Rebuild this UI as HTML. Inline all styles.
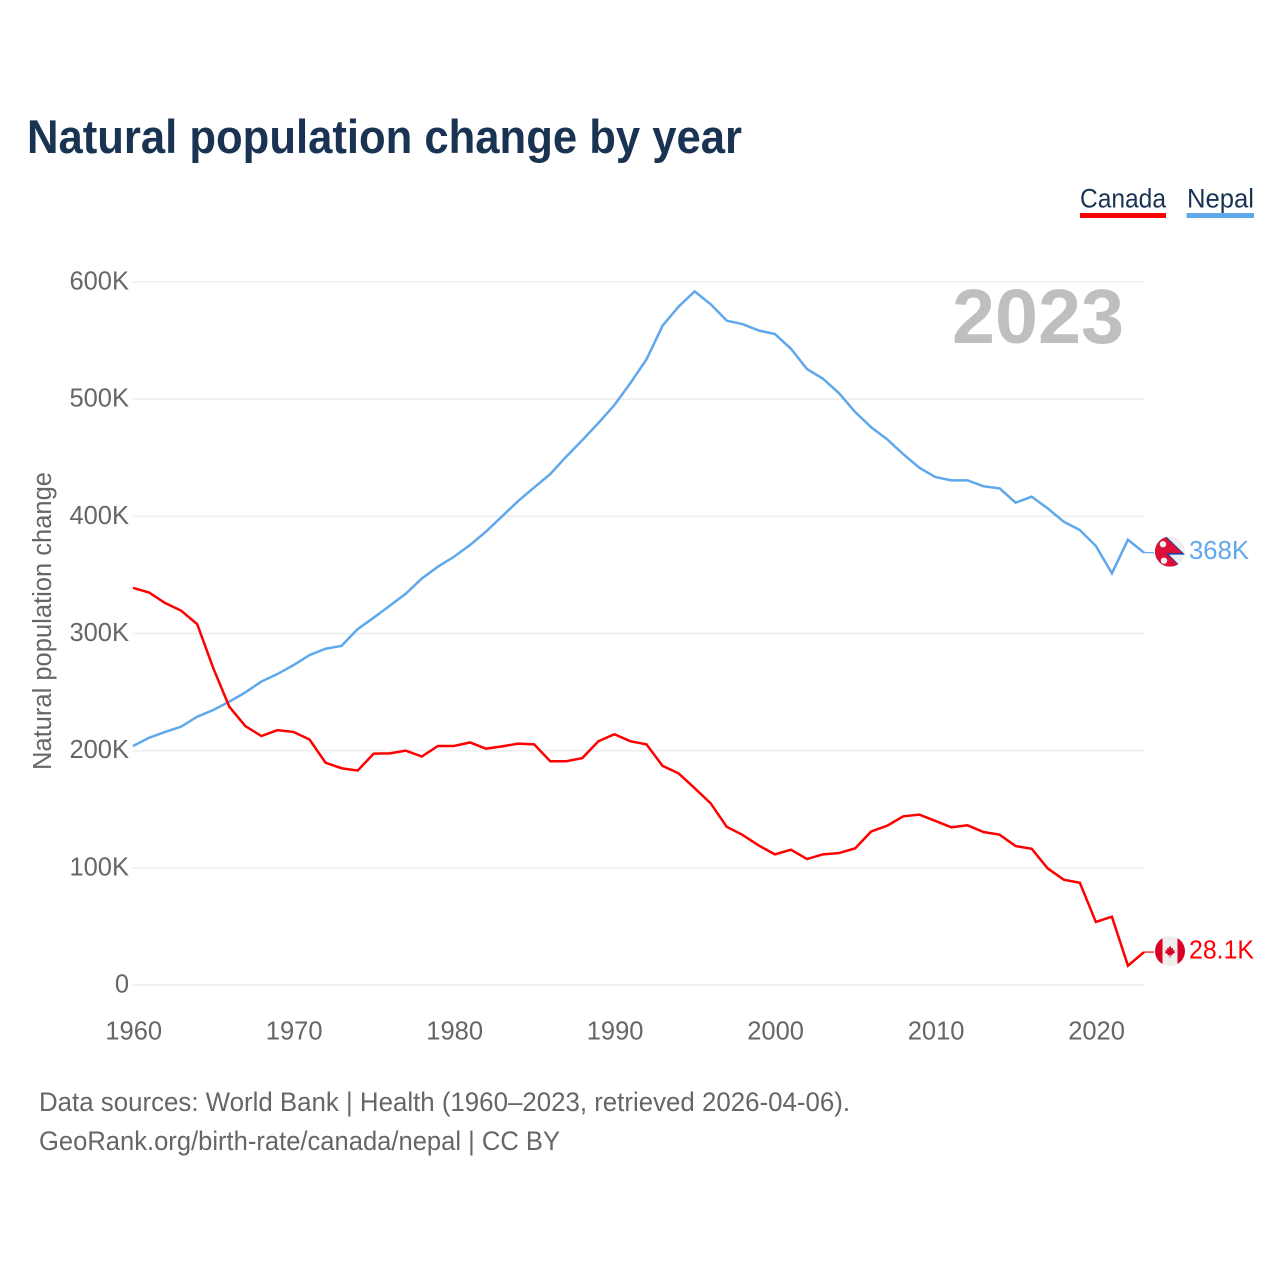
<!DOCTYPE html>
<html lang="en">
<head>
<meta charset="utf-8">
<title>Natural population change by year</title>
<style>
html,body{margin:0;padding:0;background:#fff;width:1280px;height:1280px;overflow:hidden}
svg{display:block}
text{font-family:"Liberation Sans",sans-serif}
.tick{font-size:25.5px;fill:#666}
.src{font-size:26.5px;fill:#666}
.leg{font-size:27px;fill:#1a3353}
</style>
</head>
<body>
<svg id="chart" xmlns="http://www.w3.org/2000/svg" width="1280" height="1280" viewBox="0 0 1280 1280">
  <rect x="0" y="0" width="1280" height="1280" fill="#ffffff"/>
  <text x="27" y="153" font-size="47" font-weight="700" fill="#1a3353" textLength="715" lengthAdjust="spacingAndGlyphs">Natural population change by year</text>

  <g id="gridLayer"></g>
  <g id="yTickLayer"></g>
  <g id="xTickLayer"></g>

  <text x="952" y="343" font-size="77" font-weight="700" fill="#bfbfbf" textLength="172" lengthAdjust="spacingAndGlyphs">2023</text>

  <text transform="translate(51,770) rotate(-90)" class="tick" textLength="298" lengthAdjust="spacingAndGlyphs">Natural population change</text>

  <g>
    <text class="leg" x="1080" y="207.5" textLength="86" lengthAdjust="spacingAndGlyphs">Canada</text>
    <rect x="1080" y="213" width="86" height="5" fill="#ff0000"/>
  </g>
  <g>
    <text class="leg" x="1187" y="207.5" textLength="67" lengthAdjust="spacingAndGlyphs">Nepal</text>
    <rect x="1186.5" y="213" width="67.5" height="5" fill="#5fa8ec"/>
  </g>

  <path id="lineNepal" fill="none" stroke="#5fa8ec" stroke-width="2.5" stroke-linejoin="miter"/>
  <path id="lineCanada" fill="none" stroke="#ff0000" stroke-width="2.5" stroke-linejoin="miter"/>
  <line id="connNepal" stroke="#5fa8ec" stroke-width="1.2"/>
  <line id="connCanada" stroke="#ff0000" stroke-width="1.2"/>

  <defs>
    <clipPath id="flagClip"><circle cx="0" cy="0" r="15"/></clipPath>
  </defs>

  <g id="flagNepal">
    <g clip-path="url(#flagClip)">
      <rect x="-15" y="-15" width="30" height="30" fill="#eeeeee"/>
      <polygon points="-15,-17 -4,-15.5 15,3 -1,3 13,17 -15,17" fill="#0f47a8"/>
      <polygon points="-15,-15 -4,-14 12.5,1.5 -4,1.5 11,16 -15,16" fill="#dc0f37"/>
      <circle cx="-7" cy="-7.5" r="3.2" fill="#f2f2f2"/>
      <circle cx="-6" cy="9" r="3.2" fill="#f2f2f2"/>
    </g>
  </g>
  <g id="flagCanada">
    <g clip-path="url(#flagClip)">
      <rect x="-15" y="-15" width="30" height="30" fill="#eeeeee"/>
      <rect x="-15" y="-15" width="7.5" height="30" fill="#d80027"/>
      <rect x="7.5" y="-15" width="7.5" height="30" fill="#d80027"/>
      <polygon points="0,-5.5 1.6,-2.6 3.2,-3.4 2.6,-0.4 5,-1.4 4.2,0.8 5.2,1.4 2,3.4 2.4,4.4 0.4,4 0.4,6.5 -0.4,6.5 -0.4,4 -2.4,4.4 -2,3.4 -5.2,1.4 -4.2,0.8 -5,-1.4 -2.6,-0.4 -3.2,-3.4 -1.6,-2.6" fill="#d80027"/>
    </g>
  </g>

  <text id="valueNepal" font-size="25.5" fill="#5fa8ec" textLength="60" lengthAdjust="spacingAndGlyphs"></text>
  <text id="valueCanada" font-size="25.5" fill="#ff0000" textLength="65" lengthAdjust="spacingAndGlyphs"></text>

  <text class="src" x="39" y="1111" textLength="811" lengthAdjust="spacingAndGlyphs">Data sources: World Bank | Health (1960–2023, retrieved 2026-04-06).</text>
  <text class="src" x="39" y="1150" textLength="521" lengthAdjust="spacingAndGlyphs">GeoRank.org/birth-rate/canada/nepal | CC BY</text>
</svg>

<script>
const firstYear = 1960;
const yTickValues = [0, 100, 200, 300, 400, 500, 600];
const yTickLabels = ["0", "100K", "200K", "300K", "400K", "500K", "600K"];
const xTickYears = [1960, 1970, 1980, 1990, 2000, 2010, 2020];
const xTickLabels = ["1960", "1970", "1980", "1990", "2000", "2010", "2020"];
const canadaLabel = ["28.1K"];
const nepalLabel = ["368K"];

// Natural population change, thousands, one value per year from 1960 to 2023
const canadaValues = [
  339, 335, 326, 319.5, 308, 270.5, 237.5, 221, 212.5, 217.5,
  216, 209.5, 189.7, 185, 183, 197.5, 197.7, 200, 195, 204,
  204, 207, 201.7, 203.7, 206, 205.4, 191, 191, 193.7, 208,
  214, 208, 205.4, 187, 180.6, 168, 155, 135, 128, 119,
  111.5, 115.5, 107.5, 111.5, 112.6, 116.6, 131, 136, 144, 145.4,
  140, 134.6, 136.3, 130.6, 128.3, 118.6, 116.3, 99.5, 89.9, 87.3,
  53.8, 58.3, 16.5, 28.1
];
const nepalValues = [
  204, 211, 216, 220.5, 229, 234.7, 241.8, 249.7, 259, 265.4,
  273, 281.6, 287, 289.5, 303.8, 313.5, 323.7, 334, 347, 357,
  365.5, 375.5, 387, 400, 413, 424.7, 436, 451, 465, 479.6,
  495, 513.8, 534, 562.7, 579, 592, 581, 567, 564, 558.6,
  555.6, 543, 525.7, 517.4, 505, 489, 476, 465.7, 453, 441.5,
  433.5, 430.7, 430.7, 425.6, 423.9, 411.6, 416.8, 406.8, 395.4, 388.3,
  374.7, 351.4, 380, 369
];

const SVG_NS = "http://www.w3.org/2000/svg";
const plotLeft = 133, plotRight = 1144, yZero = 985, yTop = 282, yTopValue = 600;
const lastYear = firstYear + canadaValues.length - 1;

function xScale(year) {
  return plotLeft + (year - firstYear) * (plotRight - plotLeft) / (2023 - firstYear);
}
function yScale(value) {
  return yZero - value * (yZero - yTop) / yTopValue;
}
function linePath(values) {
  return values.map(function (v, i) {
    return (i ? "L" : "M") + xScale(firstYear + i).toFixed(2) + " " + yScale(v).toFixed(2);
  }).join(" ");
}

const gridLayer = document.getElementById("gridLayer");
const yTickLayer = document.getElementById("yTickLayer");
const xTickLayer = document.getElementById("xTickLayer");

yTickValues.forEach(function (v, i) {
  const line = document.createElementNS(SVG_NS, "line");
  line.setAttribute("x1", plotLeft);
  line.setAttribute("x2", plotRight);
  line.setAttribute("y1", yScale(v));
  line.setAttribute("y2", yScale(v));
  line.setAttribute("stroke", "#eeeeee");
  line.setAttribute("stroke-width", "1.6");
  
  
  gridLayer.appendChild(line);

  const label = document.createElementNS(SVG_NS, "text");
  label.setAttribute("x", plotLeft - 4);
  label.setAttribute("y", yScale(v) + 7.5);
  label.setAttribute("text-anchor", "end");
  label.setAttribute("class", "tick");
  
  
  label.textContent = yTickLabels[i];
  yTickLayer.appendChild(label);
});

xTickYears.forEach(function (year, i) {
  const label = document.createElementNS(SVG_NS, "text");
  label.setAttribute("x", xScale(year) + 0.7);
  label.setAttribute("y", 1039.5);
  label.setAttribute("text-anchor", "middle");
  label.setAttribute("class", "tick");
  
  
  label.textContent = xTickLabels[i];
  xTickLayer.appendChild(label);
});

document.getElementById("lineCanada").setAttribute("d", linePath(canadaValues));
document.getElementById("lineNepal").setAttribute("d", linePath(nepalValues));

function placeEnd(values, connId, flagId, labelId, text) {
  const last = values[values.length - 1];
  const ex = xScale(lastYear), ey = yScale(last);
  const conn = document.getElementById(connId);
  conn.setAttribute("x1", ex);
  conn.setAttribute("x2", ex + 10);
  conn.setAttribute("y1", ey);
  conn.setAttribute("y2", ey);
  document.getElementById(flagId).setAttribute("transform", "translate(" + (ex + 26) + "," + (ey - 1) + ")");
  const label = document.getElementById(labelId);
  label.setAttribute("x", ex + 45);
  label.setAttribute("y", ey + 6.5);
  label.textContent = text;
}
placeEnd(canadaValues, "connCanada", "flagCanada", "valueCanada", canadaLabel[0]);
placeEnd(nepalValues, "connNepal", "flagNepal", "valueNepal", nepalLabel[0]);
</script>
</body>
</html>
